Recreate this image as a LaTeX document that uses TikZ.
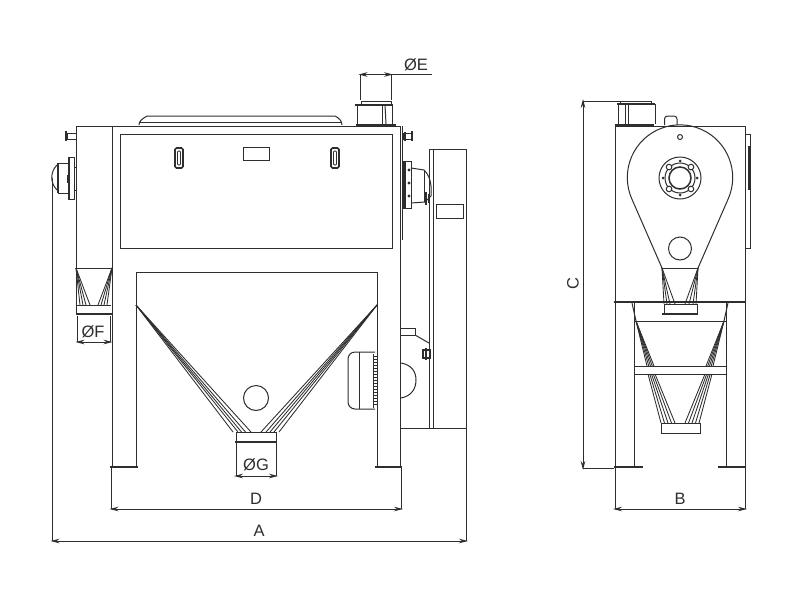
\documentclass[tikz,border=0pt]{standalone}
\usepackage{fontspec}
\setmainfont{Liberation Sans}
\usetikzlibrary{arrows.meta}
\definecolor{ink}{HTML}{2E2E2E}
\tikzset{
  part/.style={draw=ink, line width=1pt},
  heavy/.style={draw=ink, line width=1.6pt},
  foot/.style={draw=ink, line width=2.3pt},
  fine/.style={draw=ink, line width=0.85pt},
  dimline/.style={draw=ink, line width=0.9pt, {Stealth[length=9pt,width=4.5pt]}-{Stealth[length=9pt,width=4.5pt]}, shorten <=-2pt, shorten >=-2pt},
  extline/.style={draw=ink, line width=0.9pt},
  dimlabel/.style={text=ink, font=\fontsize{16.5}{18}\selectfont, inner sep=0pt}
}
\begin{document}
\begin{tikzpicture}[x=1pt,y=-1pt]
    \useasboundingbox[fill=white] (0,0) rectangle (800,600);

    % Front view: frame
    \draw[part] (76,126) -- (400,126);
    \draw[part] (76,126) -- (76,314);
    \draw[part] (112,126) -- (112,467);
    \draw[part] (120,134) rectangle (392,248);
    \draw[part] (136,467) -- (136,272) -- (377,272) -- (377,467);
    \draw[part] (400,126) -- (400,467);
    \draw[part] (402,126) -- (402,240);
    \draw[foot] (110,467) -- (138,467);
    \draw[foot] (375,467) -- (402,467);

    % Cover and slots
    \draw[part] (139,125) .. controls (139,121) and (142,119) .. (147,116) -- (335,116) .. controls (339,118) and (342,121) .. (342,125);
    \draw[part] (140,122) -- (341,122);
    \draw[part] (243,147) rectangle (269,160);
    \foreach \slotx in {175,331} {
      \draw[heavy, rounded corners=1.5pt] (\slotx,148) rectangle (\slotx+8,168);
      \draw[fine, rounded corners=1pt] (\slotx+2.5,151) rectangle (\slotx+5.5,165);
    }

    % Top duct
    \draw[foot] (356,125) -- (396,125);
    \draw[part] (357,124) -- (357,105) -- (392,105) -- (392,124);
    \draw[heavy] (355,105) -- (393,105);
    \draw[part] (361,104) -- (361,101) -- (391,101) -- (391,104);
    \draw[part] (382,105) -- (382,124);
    \draw[part] (385,105) -- (386,124);

    % Left side parts
    \draw[part] (67,133) rectangle (76,139);
    \draw[foot] (66,131) -- (66,141);
    \draw[part] (68,157) rectangle (74,199);
    \draw[foot] (69,157) -- (69,199);
    \draw[part] (74,167) rectangle (76,190);
    \draw[part] (58,163) rectangle (68,193);
    \draw[foot] (58,163) -- (58,193);
    \draw[foot] (68,175) -- (68,183);
    \draw[part] (57,165) .. controls (50,172) and (50,183) .. (57,190);

    % Right side parts
    \draw[part] (403,133) rectangle (411,139);
    \draw[foot] (412,131) -- (412,141);
    \draw[foot] (405,132) -- (405,141);
    \draw[part] (403,161) rectangle (411,208);
    \draw[heavy] (405,161) -- (405,208);
    \draw[part] (411,168) -- (424,170) .. controls (428,174) and (430,178) .. (431,186) -- (431,196) -- (425,202) -- (411,203);
    \draw[part] (424,170) -- (424,202);
    \foreach \bolty in {170,183,196} {
      \fill[ink] (409,\bolty) circle[radius=1.6];
    }
    \draw[foot] (426,192) -- (426,205);
    \draw[foot] (429,194) -- (429,203);

    % Right housing
    \draw[part] (429,428) -- (429,149) -- (466,149) -- (466,428);
    \draw[part] (433,149) -- (433,428);
    \draw[part] (401,428) -- (466,428);
    \draw[part] (436,204) rectangle (463,218);
    \draw[part] (401,328) -- (415,328) -- (415,335) -- (401,335);
    \draw[part] (415,335) -- (429,343);
    \draw[foot] (426,348) -- (426,360);
    \draw[heavy] (423,350) rectangle (430,358);
    \draw[part] (401,363) .. controls (412,365) and (416,372) .. (416,380) .. controls (416,388) and (412,396) .. (401,398);

    % Motor
    \draw[part, rounded corners=7pt] (375,352) -- (348,352) -- (348,409) -- (375,409);
    \draw[part] (359,352) -- (359,409);
    \draw[part] (373,354) -- (373,408);
    \foreach \finy in {356,359,...,406} {
      \draw[fine] (373,\finy) -- (377,\finy);
    }

    % Main hopper
    \foreach \bx in {233,238,241.5,245.5,251} {
      \draw[fine] (136,305) -- (\bx,432);
    }
    \foreach \bx in {261,266,270,274,279} {
      \draw[fine] (377,305) -- (\bx,432);
    }
    \draw[fine] (236,432) -- (276,432) -- (276,442);
    \draw[fine] (236,432) -- (236,442);
    \draw[heavy] (235,442) -- (277,442);
    \draw[part] (256,398) circle[radius=12.5];

    % Small hopper
    \draw[part] (76,268) -- (112,268);
    \foreach \bx in {80,83,86,90} {
      \draw[fine] (76,268) -- (\bx,305);
    }
    \foreach \bx in {98,101,104,107} {
      \draw[fine] (112,268) -- (\bx,305);
    }
    \draw[fine] (77,305) -- (111,305);
    \draw[heavy] (76,314) -- (112,314);

    % Side view: frame
    \draw[part] (615,467) -- (615,126) -- (745,126) -- (745,467);
    \draw[part] (634,302) -- (634,467);
    \draw[part] (726,302) -- (726,467);
    \draw[heavy] (614,302) -- (746,302);
    \draw[foot] (614,467) -- (643,467);
    \draw[foot] (718,467) -- (746,467);
    \draw[part] (745,134) -- (750,134) -- (750,248) -- (745,248);
    \draw[heavy] (749,146) -- (749,190);

    % Side duct and bump
    \draw[foot] (615,125) -- (654,125);
    \draw[part] (618,124) -- (618,104) -- (655,104) -- (655,124);
    \draw[heavy] (617,104) -- (655,104);
    \draw[part] (620,103) -- (620,101) -- (651,101) -- (651,103);
    \draw[part] (625,104) -- (625,124);
    \draw[part] (628,104) -- (628,124);
    \draw[part, rounded corners=3pt] (664.5,125) -- (664.5,116) -- (677,116) -- (677,125);

    % Pear shaped casing
    \draw[part] (698,268) -- (728.3,198.6) arc[start angle=23.55, end angle=-203.55, radius=52.7] -- (662,268);
    \draw[part] (680,137) circle[radius=2.5];
    \draw[part] (680,178) circle[radius=21];
    \draw[part] (680,178) circle[radius=15];
    \draw[line width=1.5pt, draw=ink] (680,178) circle[radius=11];
    \foreach \boltangle in {45,135,225,315} {
      \draw[part, fill=white] (680,178) ++(\boltangle:15.5) circle[radius=2.8];
    }
    \foreach \boltangle in {0,90,180,270} {
      \fill[ink] (680,178) ++(\boltangle:17) circle[radius=1.5];
    }
    \draw[part] (680,248.5) circle[radius=11.5];

    % Side hopper
    \draw[part] (662,268) -- (698,268);
    \foreach \bx in {664,667,670,675} {
      \draw[fine] (662,268) -- (\bx,304);
    }
    \foreach \bx in {685,689,693,696} {
      \draw[fine] (698,268) -- (\bx,304);
    }
    \draw[fine] (664,304) rectangle (697,314);
    \draw[heavy] (662,314) -- (698,314);

    % Lower hopper
    \draw[part] (632,303) -- (636,321);
    \draw[part] (728,303) -- (724,321);
    \draw[part] (634,321) -- (726,321);
    \draw[part] (634,366) rectangle (726,374);
    \foreach \n in {0,...,4} {
      \draw[fine] (636,321) -- ({647+\n*1.75},366);
      \draw[fine] (724,321) -- ({713-\n*1.75},366);
      \draw[fine] ({648+\n*1.75},374) -- ({661+\n*3.5},423);
      \draw[fine] ({712-\n*1.75},374) -- ({699-\n*3.5},423);
    }
    \draw[part] (661,423) rectangle (700,433);

    % Dimension coordinates
    \coordinate (Eleft) at (360.5,74.5);
    \coordinate (Eright) at (391,74.5);
    \coordinate (Fleft) at (77.5,342);
    \coordinate (Fright) at (110.5,342);
    \coordinate (Gleft) at (236,476);
    \coordinate (Gright) at (276,476);
    \coordinate (Dleft) at (111.5,509);
    \coordinate (Dright) at (401,509);
    \coordinate (Aleft) at (52.5,541);
    \coordinate (Aright) at (466,541);
    \coordinate (Bleft) at (615,509);
    \coordinate (Bright) at (745,509);
    \coordinate (Ctop) at (583,101);
    \coordinate (Cbottom) at (583,468);

    % Extension lines
    \draw[extline] (Eleft) -- (360.5,100);
    \draw[extline] (Eright) -- (391,100);
    \draw[extline] (391,74.5) -- (432,74.5);
    \draw[extline] (Fleft) -- (77.5,316);
    \draw[extline] (Fright) -- (110.5,316);
    \draw[extline] (Gleft) -- (236,443);
    \draw[extline] (Gright) -- (276,443);
    \draw[extline] (Dleft) -- (111.5,468);
    \draw[extline] (Dright) -- (401,468);
    \draw[extline] (Aleft) -- (52.5,178);
    \draw[extline] (Aright) -- (466,428);
    \draw[extline] (Bleft) -- (615,468);
    \draw[extline] (Bright) -- (745,468);
    \draw[extline] (Ctop) -- (620,101);
    \draw[extline] (Cbottom) -- (614,468);

    % Arrows
    \draw[dimline] (Eleft) -- (Eright);
    \draw[dimline] (Fleft) -- (Fright);
    \draw[dimline] (Gleft) -- (Gright);
    \draw[dimline] (Dleft) -- (Dright);
    \draw[dimline] (Aleft) -- (Aright);
    \draw[dimline] (Bleft) -- (Bright);
    \draw[dimline] (Ctop) -- (Cbottom);

    % Nodes
    \node[dimlabel] (labelE) at (416,65) {ØE};
    \node[dimlabel] (labelF) at (93,332) {ØF};
    \node[dimlabel] (labelG) at (256,465) {ØG};
    \node[dimlabel] (labelD) at (256,499) {D};
    \node[dimlabel] (labelA) at (259,531) {A};
    \node[dimlabel] (labelB) at (680,499) {B};
    \node[dimlabel, rotate=90] (labelC) at (573,284) {C};
\end{tikzpicture}
\end{document}
